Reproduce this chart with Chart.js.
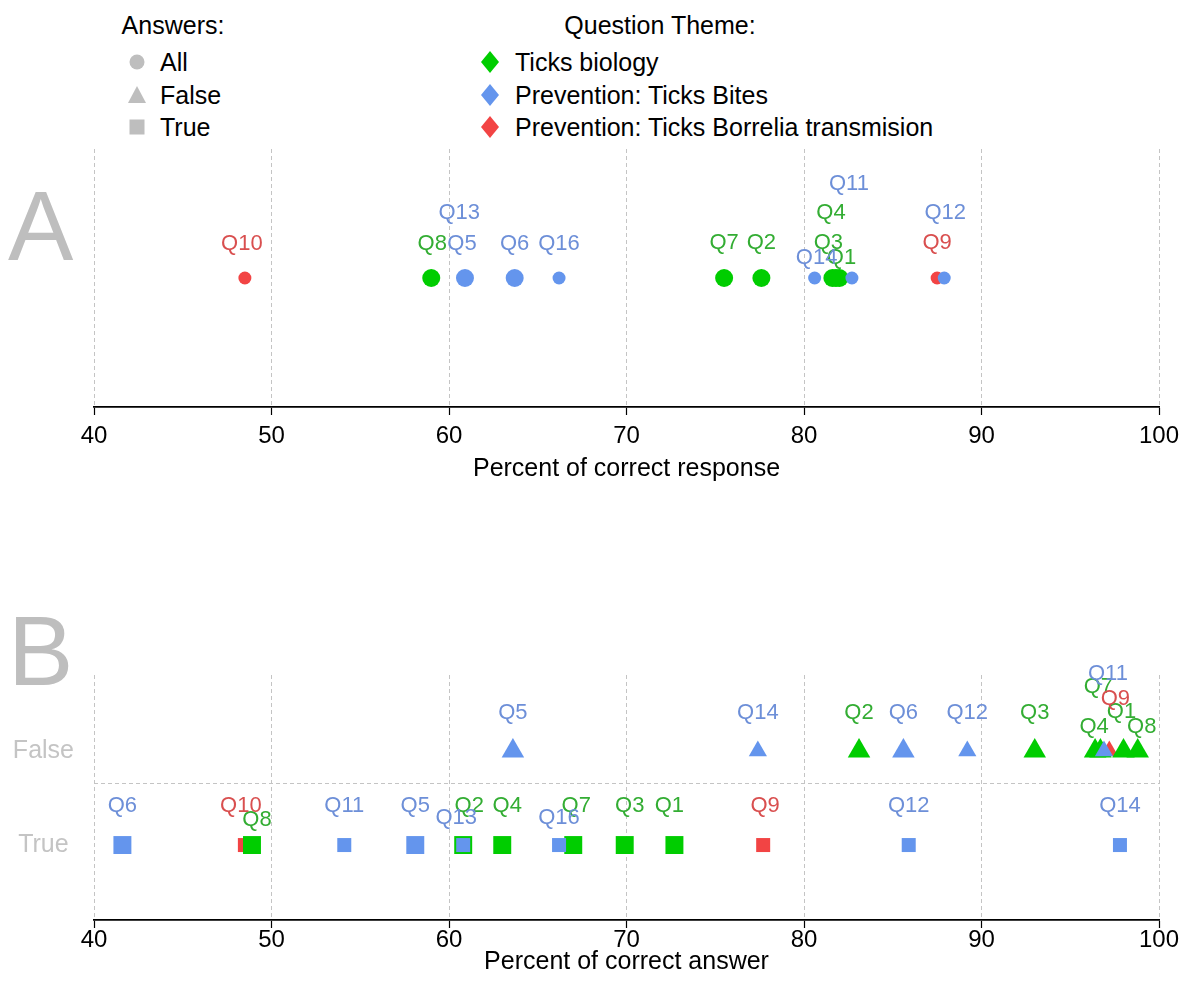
<!DOCTYPE html>
<html>
<head>
<meta charset="utf-8">
<title>Tick knowledge questionnaire</title>
<script src="https://cdn.jsdelivr.net/npm/chart.js@4.4.1/dist/chart.umd.min.js"></script>
<style>
  html, body { margin: 0; padding: 0; background: #ffffff; }
  body { position: relative; width: 1195px; height: 988px; overflow: hidden;
         font-family: "Liberation Sans", Arial, Helvetica, sans-serif; }
  .abs { position: absolute; white-space: nowrap; line-height: 1; }
  canvas { position: absolute; left: 0; }
  #chartA { top: 140px; width: 1195px; height: 360px; }
  #chartB { top: 640px; width: 1195px; height: 348px; }
  .panel-letter { font-size: 98px; color: #bebebe; }
  .legend-text { font-size: 25px; color: #000; }
</style>
</head>
<body>
<div id="legend"></div>
<div class="abs panel-letter" style="left:8px; top:177px;">A</div>
<div class="abs panel-letter" style="left:8px; top:602px;">B</div>
<canvas id="chartA" width="1195" height="360"></canvas>
<canvas id="chartB" width="1195" height="348"></canvas>
<script>
// ---- question themes ----
const themeNames = ['Ticks biology', 'Prevention: Ticks Bites', 'Prevention: Ticks Borrelia transmision'];
const biologyQuestions = ['Q1', 'Q2', 'Q3', 'Q4', 'Q7', 'Q8'];
const bitesQuestions = ['Q5', 'Q6', 'Q11', 'Q12', 'Q13', 'Q14', 'Q16'];
const borreliaQuestions = ['Q9', 'Q10'];

// ---- A: percent of correct response (all answers) ----
const allQuestions = ['Q10', 'Q8', 'Q13', 'Q5', 'Q6', 'Q16', 'Q7', 'Q2', 'Q14', 'Q3', 'Q4', 'Q1', 'Q11', 'Q9', 'Q12'];
const allPercent   = [48.5, 59.0, 60.8, 60.9, 63.7, 66.2, 75.5, 77.6, 80.6, 81.6, 81.8, 82.0, 82.7, 87.5, 87.9];

// ---- B: percent of correct answer, by expected answer ----
const falseQuestions = ['Q5', 'Q14', 'Q2', 'Q6', 'Q12', 'Q3', 'Q4', 'Q7', 'Q11', 'Q9', 'Q1', 'Q8'];
const falsePercent   = [63.6, 77.4, 83.1, 85.6, 89.2, 93.0, 96.4, 96.7, 96.9, 97.2, 98.0, 98.8];
const trueQuestions  = ['Q6', 'Q10', 'Q8', 'Q11', 'Q5', 'Q13', 'Q2', 'Q4', 'Q16', 'Q7', 'Q3', 'Q1', 'Q9', 'Q12', 'Q14'];
const truePercent    = [41.6, 48.5, 48.9, 54.1, 58.1, 60.8, 60.8, 63.0, 66.2, 67.0, 69.9, 72.7, 77.7, 85.9, 97.8];

const answerTypes = ['All', 'False', 'True'];
const axisTicks = [40, 50, 60, 70, 80, 90, 100];

// ---- styling ----
const FONT = '"Liberation Sans", Arial, Helvetica, sans-serif';
const themeGroups = [biologyQuestions, bitesQuestions, borreliaQuestions];
const themeColors = ['#00cd00', '#6495ed', '#f24444'];
const labelColors = ['#33ad33', '#6d8fd8', '#d94f4f'];
const themeDrawOrder = [1, 0, 2];           // bites on top, borrelia underneath
const legendGray = '#bebebe';
const smallMarkerQuestions = ['Q9', 'Q10', 'Q11', 'Q12', 'Q13', 'Q14', 'Q16'];
const markerRadius = { circle: [9, 6.5], triangle: [13, 10.5], rect: [12.7, 9.9] };
const rowY = { All: 1, True: 1, False: 2 };
const rowDivider = 1.653;

// label placement relative to each mark, in pixels [dx, dy]
const labelNudgeA = {
  default: [0, -35],
  Q10: [-3, -34], Q8: [1, -34], Q5: [-3, -34], Q13: [-4, -65], Q6: [0, -34], Q16: [0, -34],
  Q3: [-4, -35], Q14: [2, -20], Q1: [2, -20], Q4: [-5, -65], Q11: [-3, -94], Q12: [1, -65]
};
const labelNudgeFalse = {
  default: [0, -38],
  Q4: [-1, -24], Q7: [-2, -64], Q11: [4, -77], Q9: [6, -52], Q1: [-2, -39], Q8: [4, -24]
};
const labelNudgeTrue = {
  default: [0, -39],
  Q10: [-4, -39], Q8: [5, -25], Q13: [-7, -27], Q2: [6, -39], Q4: [5, -39], Q16: [0, -27],
  Q7: [3, -39], Q3: [5, -39], Q1: [-5, -39], Q9: [2, -39]
};

function buildDatasets(rows) {
  return themeGroups.map((group, t) => {
    const points = [];
    rows.forEach(row => {
      row.questions.forEach((q, i) => {
        if (!group.includes(q)) return;
        points.push({
          x: row.values[i], y: rowY[row.answer], q: q, style: row.style,
          nudge: row.nudge[q] || row.nudge.default
        });
      });
    });
    return {
      label: themeNames[t],
      data: points,
      order: themeDrawOrder[t],
      labelColor: labelColors[t],
      backgroundColor: themeColors[t],
      borderColor: themeColors[t],
      pointBorderWidth: 0,
      pointStyle: c => c.raw.style,
      pointRadius: c => markerRadius[c.raw.style][smallMarkerQuestions.includes(c.raw.q) ? 1 : 0],
      pointHoverRadius: c => markerRadius[c.raw.style][smallMarkerQuestions.includes(c.raw.q) ? 1 : 0]
    };
  });
}

// question names written above their marks
const pointLabels = {
  id: 'pointLabels',
  afterDatasetsDraw(chart) {
    const ctx = chart.ctx;
    ctx.save();
    ctx.font = '22px ' + FONT;
    ctx.textAlign = 'center';
    ctx.textBaseline = 'middle';
    chart.data.datasets.forEach((ds, di) => {
      const meta = chart.getDatasetMeta(di);
      meta.data.forEach((el, i) => {
        const p = ds.data[i];
        ctx.fillStyle = ds.labelColor;
        ctx.fillText(p.q, el.x + p.nudge[0], el.y + p.nudge[1]);
      });
    });
    ctx.restore();
  }
};

function percentAxis(title, tickPad, titlePadBottom, height) {
  return {
    type: 'linear', min: 40, max: 100,
    afterBuildTicks: s => { s.ticks = axisTicks.map(v => ({ value: v })); },
    afterFit: s => { s.height = height; },
    grid: { color: '#c4c4c4', lineWidth: 1, drawTicks: true, tickLength: 8, tickColor: '#000', tickWidth: 1.2 },
    border: { display: true, color: '#000', width: 1.8, dash: [4, 3] },
    ticks: { color: '#000', font: { family: FONT, size: 24 }, padding: tickPad, maxRotation: 0, autoSkip: false },
    title: { display: true, text: title, color: '#000', font: { family: FONT, size: 25 },
             padding: { top: 0, bottom: titlePadBottom } }
  };
}

const commonOptions = {
  responsive: false,
  animation: false,
  devicePixelRatio: 1,
  events: [],
  plugins: { legend: { display: false }, tooltip: { enabled: false } }
};

// ---- A ----
new Chart(document.getElementById('chartA'), {
  type: 'scatter',
  data: { datasets: buildDatasets([
    { questions: allQuestions, values: allPercent, answer: 'All', style: 'circle', nudge: labelNudgeA }
  ]) },
  options: Object.assign({}, commonOptions, {
    layout: { padding: { top: 8, left: 94, right: 36, bottom: 0 } },
    scales: {
      x: percentAxis('Percent of correct response', 7, 16, 93),
      y: { type: 'linear', min: 0, max: 2, display: false }
    }
  }),
  plugins: [pointLabels]
});

// ---- B ----
new Chart(document.getElementById('chartB'), {
  type: 'scatter',
  data: { datasets: buildDatasets([
    { questions: falseQuestions, values: falsePercent, answer: 'False', style: 'triangle', nudge: labelNudgeFalse },
    { questions: trueQuestions, values: truePercent, answer: 'True', style: 'rect', nudge: labelNudgeTrue }
  ]) },
  options: Object.assign({}, commonOptions, {
    layout: { padding: { top: 25, left: 0, right: 36, bottom: 0 } },
    scales: {
      x: percentAxis('Percent of correct answer', -2, 11, 68),
      y: {
        type: 'linear', min: 0.204, max: 2.806,
        afterBuildTicks: s => { s.ticks = [{ value: rowY.True }, { value: rowDivider }, { value: rowY.False }]; },
        afterFit: s => { s.width = 94; },
        ticks: {
          callback: v => v === rowY.True ? answerTypes[2] : (v === rowY.False ? answerTypes[1] : ''),
          color: '#c4c4c4', font: { family: FONT, size: 25 }, padding: 20, crossAlign: 'center'
        },
        grid: { drawTicks: false, lineWidth: 1,
                color: c => (c.tick && c.tick.value === rowDivider) ? '#c4c4c4' : 'rgba(0,0,0,0)' },
        border: { display: false, dash: [4, 3] }
      }
    }
  }),
  plugins: [pointLabels]
});

// ---- legend ----
(function buildLegend() {
  const host = document.getElementById('legend');
  const size = 25;
  function text(str, x, baseline, centered) {
    const d = document.createElement('div');
    d.className = 'abs legend-text';
    d.textContent = str;
    d.style.top = (baseline - 0.8465 * size) + 'px';
    d.style.left = x + 'px';
    if (centered) d.style.transform = 'translateX(-50%)';
    host.appendChild(d);
  }
  const NS = 'http://www.w3.org/2000/svg';
  const svg = document.createElementNS(NS, 'svg');
  svg.setAttribute('width', '1195');
  svg.setAttribute('height', '150');
  svg.style.position = 'absolute';
  svg.style.left = '0';
  svg.style.top = '0';
  host.appendChild(svg);
  function shape(tag, attrs) {
    const el = document.createElementNS(NS, tag);
    Object.keys(attrs).forEach(k => el.setAttribute(k, attrs[k]));
    svg.appendChild(el);
  }
  const rows = [62, 95, 127];

  text('Answers:', 173, 34, true);
  const mx = 137;
  shape('circle', { cx: mx, cy: rows[0], r: 7.5, fill: legendGray });
  shape('polygon', { points: `${mx - 9},${rows[1] + 8} ${mx + 9},${rows[1] + 8} ${mx},${rows[1] - 9}`, fill: legendGray });
  shape('rect', { x: mx - 7.5, y: rows[2] - 7.5, width: 15, height: 15, fill: legendGray });
  answerTypes.forEach((a, i) => text(a, 160, rows[i] + 9, false));

  text('Question Theme:', 660, 34, true);
  const dx = 490;
  themeNames.forEach((name, i) => {
    const y = rows[i];
    shape('polygon', { points: `${dx},${y - 11} ${dx + 9},${y} ${dx},${y + 11} ${dx - 9},${y}`, fill: themeColors[i] });
    text(name, 515, y + 9, false);
  });
})();
</script>
</body>
</html>
